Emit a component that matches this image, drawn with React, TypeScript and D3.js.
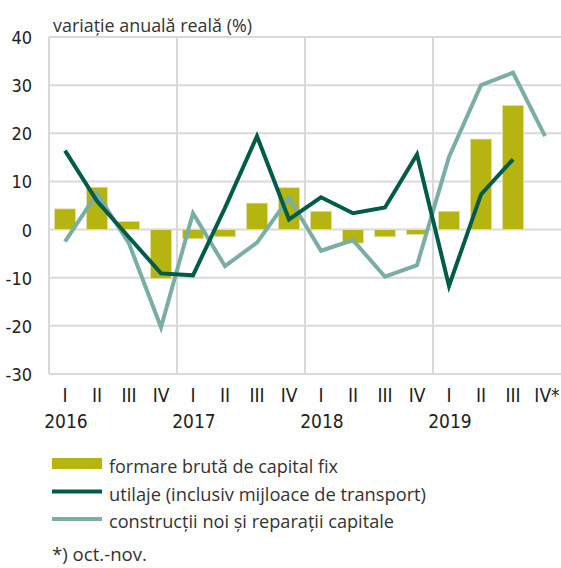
import React from "react";
import * as d3 from "d3";

const quarters = ["I", "II", "III", "IV", "I", "II", "III", "IV", "I", "II", "III", "IV", "I", "II", "III", "IV*"];
const years = ["2016", "2017", "2018", "2019"];
const yTicks = [-30, -20, -10, 0, 10, 20, 30, 40];
const formare: (number | null)[] = [4.3, 8.8, 1.7, -10.2, -1.9, -1.5, 5.5, 8.7, 3.8, -2.8, -1.5, -1.0, 3.8, 18.8, 25.8, null];
const utilaje: (number | null)[] = [16.4, 5.9, -1.6, -9.1, -9.5, 4.5, 19.4, 2.1, 6.7, 3.4, 4.6, 15.6, -11.7, 7.3, 14.6, null];
const constructii: (number | null)[] = [-2.5, 7.5, -2.9, -20.3, 3.4, -7.6, -2.7, 6.6, -4.4, -2.2, -9.8, -7.4, 15.1, 30.0, 32.6, 19.4];

const legendLabels = [
  "formare brută de capital fix",
  "utilaje (inclusiv mijloace de transport)",
  "construcții noi și reparații capitale",
];
const titleText = "variație anuală reală (%)";
const footnote = "*) oct.-nov.";

const W = 561, H = 568;
const M = { left: 49, right: 561, top: 37, bottom: 374 };
const C_BAR = "#b5b410";
const C_DARK = "#005c49";
const C_TEAL = "#7aaea5";
const C_GRID = "#d9d9d9";
const NUM_FONT = "'Liberation Sans Narrow', 'DejaVu Sans Condensed', 'Arial Narrow', sans-serif";
const TXT_FONT = "'Open Sans', 'Noto Sans', sans-serif";

export default function App() {
  const idx = quarters.map((_, i) => i);
  const x = d3.scaleBand<number>().domain(idx).range([M.left, M.right]).padding(0);
  const bw = x.bandwidth();
  const cx = (i: number) => (x(i) as number) + bw / 2;
  const y = d3.scaleLinear().domain([-30, 40]).range([M.bottom, M.top]);

  const line = d3
    .line<number | null>()
    .defined((d) => d !== null)
    .x((_, i) => cx(i))
    .y((d) => y(d as number));

  const yearStarts = years.map((_, k) => x(k * 4) as number);
  const barW = bw * 0.66;

  return (
    <svg width={W} height={H} style={{ position: "absolute", left: 0, top: 0 }}>
      <rect width={W} height={H} fill="#fff" />
      <text x={53} y={32} fontFamily={TXT_FONT} fontSize={18} fill="#333" textLength={199} lengthAdjust="spacingAndGlyphs">
        {titleText}
      </text>
      {/* grid */}
      {yTicks.map((t) => (
        <line key={"g" + t} x1={M.left} x2={M.right} y1={y(t)} y2={y(t)} stroke={C_GRID} strokeWidth={2} />
      ))}
      <line x1={M.left} x2={M.left} y1={M.top} y2={M.bottom} stroke={C_GRID} strokeWidth={2} />
      {yearStarts.slice(1).map((xs, k) => (
        <line key={"v" + k} x1={xs} x2={xs} y1={M.top} y2={M.bottom} stroke={C_GRID} strokeWidth={2} />
      ))}
      {/* y labels */}
      {yTicks.map((t) => (
        <text key={"yl" + t} x={32} y={y(t) + 7} textAnchor="end" fontFamily={NUM_FONT} fontSize={18} fill="#222">
          {t}
        </text>
      ))}
      {/* bars */}
      {formare.map((v, i) =>
        v === null ? null : (
          <rect
            key={"b" + i}
            x={cx(i) - barW / 2}
            width={barW}
            y={Math.min(y(v), y(0))}
            height={Math.abs(y(v) - y(0))}
            fill={C_BAR}
            stroke="#e4e4a6"
            strokeWidth={0.8}
          />
        )
      )}
      <path d={line(constructii) || ""} fill="none" stroke={C_TEAL} strokeWidth={4} strokeLinejoin="miter" />
      <path d={line(utilaje) || ""} fill="none" stroke={C_DARK} strokeWidth={4} strokeLinejoin="miter" />
      {/* x labels */}
      {quarters.map((q, i) => (
        <text key={"q" + i} x={cx(i) + (q === "IV*" ? 2 : 0)} y={402} textAnchor="middle" fontFamily={NUM_FONT} fontSize={19} fill="#222">
          {q}
        </text>
      ))}
      {years.map((yr, k) => (
        <text key={"y" + k} x={cx(k * 4) + 1} y={428} textAnchor="middle" fontFamily={NUM_FONT} fontSize={19} fill="#222">
          {yr}
        </text>
      ))}
      {/* legend */}
      <rect x={52} y={458} width={50} height={11} fill={C_BAR} />
      <line x1={52} x2={102} y1={491.5} y2={491.5} stroke={C_DARK} strokeWidth={4} />
      <line x1={52} x2={102} y1={519} y2={519} stroke={C_TEAL} strokeWidth={4} />
      {legendLabels.map((l, i) => (
        <text
          key={"l" + i}
          x={109}
          y={473 + i * 27.5}
          fontFamily={TXT_FONT}
          fontSize={18}
          fill="#333"
          textLength={[229, 317, 285][i]}
          lengthAdjust="spacingAndGlyphs"
        >
          {l}
        </text>
      ))}
      <text x={52} y={561} fontFamily={TXT_FONT} fontSize={18} fill="#333" textLength={95} lengthAdjust="spacingAndGlyphs">
        {footnote}
      </text>
    </svg>
  );
}
